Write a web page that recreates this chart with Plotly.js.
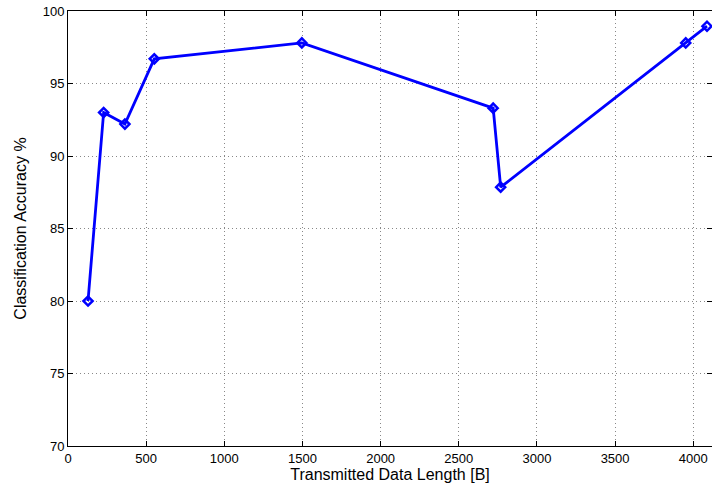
<!DOCTYPE html>
<html>
<head>
<meta charset="utf-8">
<script src="https://cdn.plot.ly/plotly-3.0.1.min.js"></script>
<style>html,body{margin:0;padding:0;background:#fff;}#chart{width:712px;height:488px;}</style>
</head>
<body>
<div id="chart"></div>
<script>
var dataLength = [128, 228, 364, 552, 1496, 2720, 2768, 3952, 4088];
var accuracy = [80.0, 93.0, 92.2, 96.7, 97.8, 93.3, 87.85, 97.8, 98.95];
var xTicks = [0, 500, 1000, 1500, 2000, 2500, 3000, 3500, 4000];
var yTicks = [70, 75, 80, 85, 90, 95, 100];

var trace = {
  x: dataLength, y: accuracy, type: 'scatter', mode: 'lines+markers',
  line: {color: '#0000ff', width: 2.8},
  marker: {symbol: 'diamond-open', size: 7, color: '#0000ff', line: {color: '#0000ff', width: 2.5}},
  cliponaxis: false, showlegend: false
};
var axisCommon = {
  showline: true, linecolor: '#000', linewidth: 1, mirror: 'ticks',
  ticks: 'inside', ticklen: 5, tickcolor: '#000',
  showgrid: true, gridcolor: '#888', griddash: '1px,3px', gridwidth: 1,
  zeroline: false, tickfont: {family: 'Liberation Sans, Arial, sans-serif', size: 13, color: '#000'}
};
var layout = {
  width: 712, height: 488,
  margin: {l: 68, r: 0, t: 11, b: 42},
  paper_bgcolor: '#fff', plot_bgcolor: '#fff',
  font: {family: 'Liberation Sans, Arial, sans-serif', color: '#000'},
  xaxis: Object.assign({}, axisCommon, {
    range: [0, 4120], tickmode: 'array', tickvals: xTicks, ticktext: xTicks.map(String),
    title: {text: 'Transmitted Data Length [B]', font: {size: 16}, standoff: 4}
  }),
  yaxis: Object.assign({}, axisCommon, {
    range: [70, 100], tickmode: 'array', tickvals: yTicks, ticktext: yTicks.map(String),
    title: {text: 'Classification Accuracy %', font: {size: 16}, standoff: 12}
  })
};
Plotly.newPlot('chart', [trace], layout, {staticPlot: true, displayModeBar: false});
</script>
</body>
</html>
